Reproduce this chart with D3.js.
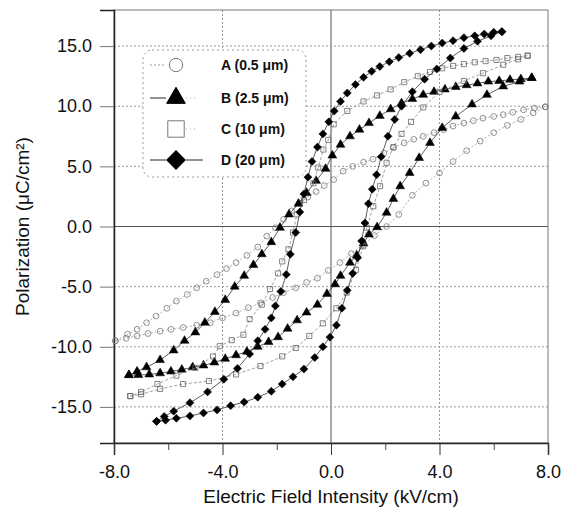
<!DOCTYPE html>
<html>
<head>
<meta charset="utf-8">
<script src="https://cdn.jsdelivr.net/npm/d3@7"></script>
<style>
  body { margin: 0; background: #fff; }
  text { font-family: Arial, "Liberation Sans", sans-serif; fill: #111; }
</style>
</head>
<body>
<div id="chart"></div>
<script>
// Hysteresis loops, P (uC/cm2) vs E (kV/cm)
// each branch is [E, P]
const seriesNames = ["A (0.5 μm)", "B (2.5 μm)", "C (10 μm)", "D (20 μm)"];

const aDown = [[7.9,9.95],[7.5,9.85],[7.1,9.7],[6.7,9.5],[6.35,9.3],[6.0,9.15],[5.6,9.0],[5.25,8.8],[4.9,8.6],[4.5,8.35],[4.15,8.05],[3.8,7.8],[3.4,7.5],[3.05,7.25],[2.7,6.95],[2.3,6.55],[1.95,6.1],[1.55,5.6],[1.2,5.35],[0.8,5.0],[0.45,4.6],[0.1,3.9],[-0.25,3.4],[-0.55,2.9],[-0.85,2.45],[-1.15,1.95],[-1.45,1.3],[-1.75,0.6],[-2.05,-0.1],[-2.37,-0.8],[-2.7,-1.7],[-3.1,-2.4],[-3.5,-3.0],[-3.85,-3.5],[-4.2,-4.0],[-4.6,-4.55],[-4.95,-5.1],[-5.3,-5.65],[-5.7,-6.2],[-6.05,-6.8],[-6.45,-7.45],[-6.8,-8.0],[-7.15,-8.55],[-7.5,-8.95],[-7.95,-9.5]];
const aUp = [[-7.95,-9.5],[-7.55,-9.3],[-7.15,-9.1],[-6.75,-8.9],[-6.3,-8.7],[-5.9,-8.55],[-5.45,-8.4],[-4.95,-8.2],[-4.45,-8.0],[-4.0,-7.6],[-3.5,-7.2],[-3.05,-6.75],[-2.6,-6.35],[-2.15,-5.9],[-1.75,-5.5],[-1.3,-5.1],[-0.9,-4.65],[-0.5,-4.3],[-0.1,-3.65],[0.33,-3.0],[0.75,-2.25],[1.2,-1.5],[1.6,-0.75],[2.05,0.0],[2.5,1.0],[3.0,2.6],[3.5,3.6],[4.0,4.45],[4.5,5.4],[5.0,6.3],[5.5,7.1],[6.0,7.8],[6.5,8.4],[7.0,8.9],[7.45,9.45],[7.9,9.95]];

const bDown = [[7.4,12.35],[7.0,12.25],[6.6,12.2],[6.2,12.1],[5.8,12.05],[5.4,11.9],[5.0,11.75],[4.6,11.6],[4.2,11.4],[3.8,11.2],[3.4,10.95],[3.0,10.6],[2.6,10.25],[2.2,9.75],[1.8,9.2],[1.4,8.6],[1.05,8.05],[0.7,7.5],[0.35,6.8],[0.05,5.9],[-0.2,4.8],[-0.55,3.8],[-0.9,2.8],[-1.2,1.9],[-1.55,1.0],[-1.88,-0.1],[-2.2,-1.3],[-2.55,-2.3],[-2.86,-3.2],[-3.2,-4.1],[-3.55,-5.0],[-3.9,-6.1],[-4.28,-7.1],[-4.65,-8.0],[-5.0,-8.8],[-5.4,-9.5],[-5.8,-10.3],[-6.3,-11.1],[-6.8,-11.7],[-7.15,-12.05],[-7.45,-12.35]];
const bUp = [[-7.45,-12.35],[-7.1,-12.35],[-6.7,-12.3],[-6.3,-12.2],[-5.9,-12.05],[-5.5,-11.9],[-5.1,-11.7],[-4.7,-11.55],[-4.3,-11.3],[-3.9,-11.0],[-3.5,-10.7],[-3.1,-10.4],[-2.7,-10.0],[-2.3,-9.6],[-1.95,-9.2],[-1.6,-8.5],[-1.25,-7.8],[-0.9,-7.15],[-0.5,-6.5],[-0.15,-5.6],[0.15,-4.8],[0.35,-4.1],[0.7,-3.0],[0.95,-2.4],[1.2,-1.4],[1.4,-0.65],[1.7,-0.05],[2.05,1.15],[2.3,2.3],[2.55,3.35],[2.9,4.45],[3.25,5.7],[3.65,6.95],[4.1,8.2],[4.6,9.15],[5.2,10.15],[5.75,10.95],[6.35,11.65],[6.95,12.05],[7.4,12.35]];

const cDown = [[7.25,14.2],[6.9,14.1],[6.5,14.0],[6.1,13.85],[5.7,13.75],[5.3,13.65],[4.9,13.5],[4.5,13.35],[4.1,13.15],[3.65,12.85],[3.2,12.5],[2.7,12.0],[2.2,11.4],[1.7,10.9],[1.2,10.4],[0.6,9.6],[0.1,8.5],[-0.1,7.2],[-0.28,6.4],[-0.47,4.9],[-0.65,3.6],[-1.0,2.2],[-1.26,1.0],[-1.4,-0.5],[-1.57,-1.9],[-1.8,-2.9],[-1.95,-3.9],[-2.25,-5.2],[-2.55,-6.5],[-3.0,-7.7],[-3.23,-9.0],[-3.66,-9.45],[-4.1,-9.95],[-4.35,-10.8],[-5.0,-11.75],[-5.7,-12.4],[-6.4,-13.1],[-7.0,-13.75],[-7.4,-14.1]];
const cUp = [[-7.4,-14.1],[-7.0,-13.95],[-6.3,-13.5],[-5.45,-13.1],[-4.5,-12.85],[-3.5,-12.3],[-2.6,-11.6],[-1.8,-10.8],[-1.3,-10.1],[-0.8,-9.1],[-0.3,-8.05],[0.2,-6.8],[0.58,-5.5],[0.92,-3.6],[1.19,-1.64],[1.32,-0.1],[1.56,1.68],[1.81,3.35],[2.05,5.3],[2.3,6.6],[2.6,7.7],[2.95,8.7],[3.4,9.9],[4.0,11.2],[4.9,12.1],[5.6,12.75],[6.35,13.45],[6.9,13.9],[7.25,14.2]];

const dDown = [[6.3,16.2],[6.0,16.15],[5.65,16.0],[5.3,15.85],[4.9,15.7],[4.5,15.45],[4.1,15.25],[3.7,15.0],[3.3,14.7],[2.9,14.4],[2.5,14.05],[2.15,13.7],[1.8,13.3],[1.5,12.9],[1.2,12.4],[0.9,11.8],[0.6,11.1],[0.35,10.4],[0.12,9.6],[-0.08,8.7],[-0.3,7.7],[-0.5,6.6],[-0.7,5.4],[-0.85,4.1],[-1.0,2.7],[-1.15,1.2],[-1.3,-0.5],[-1.5,-2.3],[-1.65,-4.0],[-1.85,-5.4],[-2.05,-6.6],[-2.2,-7.6],[-2.43,-8.55],[-2.7,-9.5],[-3.0,-10.6],[-3.45,-11.8],[-3.95,-12.7],[-4.55,-13.75],[-5.2,-14.65],[-5.8,-15.35],[-6.15,-15.8],[-6.43,-16.2]];
const dUp = [[-6.43,-16.2],[-6.1,-16.1],[-5.7,-15.95],[-5.2,-15.75],[-4.7,-15.5],[-4.2,-15.25],[-3.7,-14.9],[-3.2,-14.6],[-2.7,-14.2],[-2.2,-13.7],[-1.8,-13.1],[-1.4,-12.5],[-1.0,-11.85],[-0.6,-10.9],[-0.3,-10.0],[-0.04,-9.2],[0.2,-8.2],[0.4,-6.8],[0.6,-5.3],[0.8,-3.9],[0.98,-2.6],[1.13,-1.2],[1.25,0.3],[1.38,1.9],[1.52,3.1],[1.68,4.3],[1.85,5.8],[2.1,7.5],[2.35,8.9],[2.6,10.0],[3.0,11.2],[3.45,12.25],[3.9,13.1],[4.4,14.0],[4.9,14.8],[5.4,15.4],[5.9,15.85],[6.3,16.2]];

const xTicks = [-8, -4, 0, 4, 8];
const xMinor = [-6, -2, 2, 6];
const yTicks = [-15, -10, -5, 0, 5, 10, 15];

// chart size
const width = 563, height = 509;
const margin = {top: 10, right: 15, bottom: 66, left: 114};
const plotW = width - margin.left - margin.right;
const plotH = height - margin.top - margin.bottom;

// tick labels use a plain hyphen like the original
const fmt = d => d.toFixed(1);

let svg = d3.select("#chart")
     .append("svg")
     .attr("width", width)
     .attr("height", height);

let g = svg.append("g")
     .attr("transform", "translate(" + margin.left + "," + margin.top + ")");

let scaleX = d3.scaleLinear().domain([-8, 8]).range([0, plotW]);
let scaleY = d3.scaleLinear().domain([-18, 18]).range([plotH, 0]);

// grid lines (dotted), zero lines solid
g.selectAll(".gx")
     .data(xTicks.slice(1, -1))
     .enter().append("line")
     .attr("x1", d => scaleX(d)).attr("x2", d => scaleX(d))
     .attr("y1", 0).attr("y2", plotH)
     .attr("stroke", d => d === 0 ? "#555" : "#999")
     .attr("stroke-width", 1)
     .attr("stroke-dasharray", d => d === 0 ? null : "2,2");

g.selectAll(".gy")
     .data(yTicks)
     .enter().append("line")
     .attr("x1", 0).attr("x2", plotW)
     .attr("y1", d => scaleY(d)).attr("y2", d => scaleY(d))
     .attr("stroke", d => d === 0 ? "#555" : "#999")
     .attr("stroke-width", 1)
     .attr("stroke-dasharray", d => d === 0 ? null : "2,2");

// frame
g.append("rect")
     .attr("width", plotW).attr("height", plotH)
     .attr("fill", "none").attr("stroke", "#777").attr("stroke-width", 1);

// x axis
let xAxis = g.append("g")
     .attr("transform", "translate(0," + plotH + ")")
     .call(d3.axisBottom(scaleX).tickValues(xTicks).tickSize(12).tickPadding(10).tickFormat(fmt));
xAxis.select(".domain").attr("stroke", "#222").attr("stroke-width", 1.5);
xAxis.selectAll("line").attr("stroke", "#333");
xAxis.selectAll("text").style("font-size", "18px").attr("fill", "#111");

g.append("g")
     .attr("transform", "translate(0," + plotH + ")")
     .call(d3.axisBottom(scaleX).tickValues(xMinor).tickSize(7).tickFormat(""))
     .call(a => a.select(".domain").remove())
     .selectAll("line").attr("stroke", "#444");

// y axis
let yAxis = g.append("g")
     .call(d3.axisLeft(scaleY).tickValues(yTicks).tickSize(14).tickPadding(8).tickFormat(fmt));
yAxis.select(".domain").attr("stroke", "#222").attr("stroke-width", 1.5);
yAxis.selectAll("line").attr("stroke", "#777");
yAxis.selectAll("text").style("font-size", "18px").attr("fill", "#111");

// axis titles
svg.append("text")
     .attr("text-anchor", "middle")
     .attr("x", margin.left + scaleX(0))
     .attr("y", 503)
     .style("font-size", "19px")
     .text("Electric Field Intensity (kV/cm)");

svg.append("text")
     .attr("text-anchor", "middle")
     .attr("transform", "translate(29," + (margin.top + scaleY(0)) + ") rotate(-90)")
     .style("font-size", "19px")
     .text("Polarization (μC/cm²)");

// series styles
const styles = [
     {branches: [aDown, aUp], symbol: d3.symbolCircle, size: 26, fill: "none", stroke: "#777", line: "#999", dash: "2,2", rot: 0},
     {branches: [bDown, bUp], symbol: d3.symbolTriangle, size: 34, fill: "#000", stroke: "#000", line: "#333", dash: null, rot: 0},
     {branches: [cDown, cUp], symbol: d3.symbolSquare, size: 26, fill: "none", stroke: "#666", line: "#888", dash: "3,2", rot: 0},
     {branches: [dDown, dUp], symbol: d3.symbolSquare, size: 32, fill: "#000", stroke: "#000", line: "#333", dash: null, rot: 45}
];

let line = d3.line()
     .x(d => scaleX(d[0]))
     .y(d => scaleY(d[1]));

styles.forEach(function(s) {
     s.branches.forEach(function(br) {
          g.append("path")
               .datum(br)
               .attr("d", line)
               .attr("fill", "none")
               .attr("stroke", s.line)
               .attr("stroke-width", 0.8)
               .attr("stroke-dasharray", s.dash);
          g.selectAll(null)
               .data(br)
               .enter().append("path")
               .attr("d", d3.symbol().type(s.symbol).size(s.size))
               .attr("transform", d => "translate(" + scaleX(d[0]) + "," + scaleY(d[1]) + ") rotate(" + s.rot + ")")
               .attr("fill", s.fill)
               .attr("stroke", s.stroke)
               .attr("stroke-width", s.fill === "none" ? 0.8 : 0.5);
     });
});

// legend
let legend = svg.append("g");
legend.append("rect")
     .attr("x", 143).attr("y", 50)
     .attr("width", 163).attr("height", 127)
     .attr("rx", 9)
     .attr("fill", "#fff")
     .attr("stroke", "#999")
     .attr("stroke-dasharray", "2,3");

const legendY = [65, 98, 129, 160];
const legendSym = [
     {symbol: d3.symbolCircle, size: 140, fill: "none", stroke: "#777", rot: 0, left: "#999", right: null, dash: "2,2"},
     {symbol: d3.symbolTriangle, size: 150, fill: "#000", stroke: "#000", rot: 0, left: "#222", right: "#aaa", dash: null},
     {symbol: d3.symbolSquare, size: 270, fill: "none", stroke: "#777", rot: 0, left: null, right: "#aaa", dash: null},
     {symbol: d3.symbolSquare, size: 170, fill: "#000", stroke: "#000", rot: 45, left: "#222", right: "#222", dash: null}
];

seriesNames.forEach(function(name, i) {
     let y = legendY[i], s = legendSym[i];
     if (s.left) {
          legend.append("line").attr("x1", 150).attr("x2", 166).attr("y1", y).attr("y2", y)
               .attr("stroke", s.left).attr("stroke-dasharray", s.dash);
     }
     if (s.right) {
          legend.append("line").attr("x1", 186).attr("x2", i === 3 ? 203 : 198).attr("y1", y).attr("y2", y)
               .attr("stroke", s.right).attr("stroke-dasharray", i === 3 ? null : "1,3");
     }
     legend.append("path")
          .attr("d", d3.symbol().type(s.symbol).size(s.size))
          .attr("transform", "translate(176," + y + ") rotate(" + s.rot + ")")
          .attr("fill", s.fill)
          .attr("stroke", s.stroke)
          .attr("stroke-width", 1);
     legend.append("text")
          .attr("x", 221)
          .attr("y", y + 5)
          .style("font-size", "14px")
          .style("font-weight", "bold")
          .text(name);
});
</script>
</body>
</html>
